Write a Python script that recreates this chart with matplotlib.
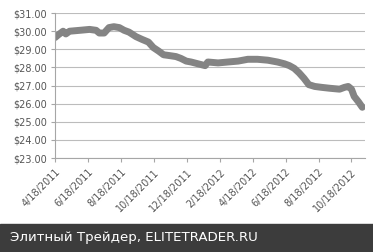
import pandas as pd
import matplotlib
matplotlib.use("Agg")
import matplotlib.pyplot as plt
from matplotlib.patches import Rectangle

# price readings taken off the chart
dates = [
    "2011-04-18", "2011-04-24", "2011-05-03", "2011-05-08", "2011-05-15",
    "2011-06-03", "2011-06-21", "2011-07-03", "2011-07-09", "2011-07-18",
    "2011-07-27", "2011-08-05", "2011-08-15", "2011-08-24", "2011-09-02",
    "2011-09-15", "2011-09-26", "2011-10-08", "2011-10-17", "2011-10-27",
    "2011-11-05", "2011-11-17", "2011-11-28", "2011-12-07", "2011-12-17",
    "2011-12-26", "2012-01-08", "2012-01-21", "2012-01-26", "2012-02-14",
    "2012-03-03", "2012-03-22", "2012-04-09", "2012-04-27", "2012-05-16",
    "2012-06-03", "2012-06-16", "2012-06-25", "2012-07-04", "2012-07-13",
    "2012-07-22", "2012-07-31", "2012-08-11", "2012-08-24", "2012-09-08",
    "2012-09-26", "2012-10-05", "2012-10-12", "2012-10-18", "2012-10-23",
    "2012-10-31", "2012-11-07",
]
prices = [
    29.65, 29.80, 30.00, 29.85, 30.00,
    30.05, 30.10, 30.05, 29.90, 29.90,
    30.20, 30.25, 30.20, 30.05, 29.95,
    29.70, 29.55, 29.40, 29.10, 28.90,
    28.70, 28.65, 28.60, 28.50, 28.35,
    28.30, 28.20, 28.10, 28.30, 28.25,
    28.30, 28.35, 28.45, 28.45, 28.40,
    28.30, 28.20, 28.10, 27.95, 27.70,
    27.40, 27.05, 26.95, 26.90, 26.85,
    26.80, 26.90, 26.95, 26.80, 26.40,
    26.10, 25.80,
]
tick_dates = ["2011-04-18", "2011-06-18", "2011-08-18", "2011-10-18", "2011-12-18",
              "2012-02-18", "2012-04-18", "2012-06-18", "2012-08-18", "2012-10-18"]
tick_labels = ["4/18/2011", "6/18/2011", "8/18/2011", "10/18/2011", "12/18/2011",
               "2/18/2012", "4/18/2012", "6/18/2012", "8/18/2012", "10/18/2012"]
y_ticks = [23, 24, 25, 26, 27, 28, 29, 30, 31]

x = pd.to_datetime(dates)
ticks = pd.to_datetime(tick_dates)

fig = plt.figure(figsize=(3.73, 2.52), dpi=100)
ax = fig.add_axes([0.1475, 0.373, 0.831, 0.575])

ax.plot(x, prices, color="#848484", lw=5, solid_joinstyle="round", solid_capstyle="round")

ax.set_ylim(23, 31)
ax.set_yticks(y_ticks)
ax.set_yticklabels([f"${v:.2f}" for v in y_ticks])
ax.set_xlim(pd.Timestamp("2011-04-18"), pd.Timestamp("2012-11-12"))
ax.set_xticks(ticks)
ax.set_xticklabels(tick_labels, rotation=45, ha="right", rotation_mode="anchor")

ax.grid(axis="y", color="#bcbcbc", lw=0.8)
ax.set_axisbelow(True)
for s in ["top", "right"]:
    ax.spines[s].set_visible(False)
for s in ["left", "bottom"]:
    ax.spines[s].set_color("#a6a6a6")
    ax.spines[s].set_linewidth(0.8)
ax.tick_params(colors="#a6a6a6", labelcolor="#555555", labelsize=7, length=3, width=0.8)
ax.tick_params(axis="y", pad=3)

# dark footer band with the source line
fig.patches.append(Rectangle((0, 0), 1, 28 / 252, transform=fig.transFigure,
                             color="#3c3c3c", zorder=0))
fig.text(10 / 373, 14 / 252, "Элитный Трейдер, ELITETRADER.RU", color="white",
         fontsize=9.6, va="center", ha="left")

fig.savefig("out.png", dpi=100)
